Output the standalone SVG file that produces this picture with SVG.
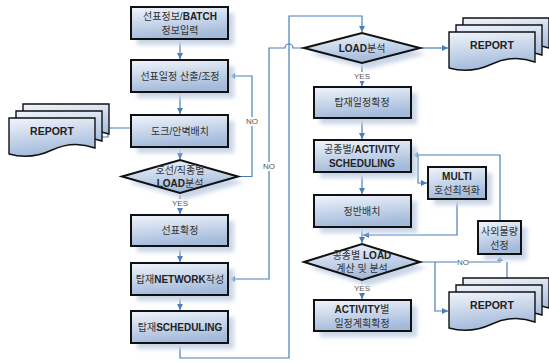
<svg xmlns="http://www.w3.org/2000/svg" width="549" height="363" viewBox="0 0 549 363">
<defs>
<linearGradient id="g" x1="0" y1="0" x2="0.25" y2="1">
<stop offset="0" stop-color="#f1f5fb"/>
<stop offset="1" stop-color="#a3badb"/>
</linearGradient>
<filter id="sh" x="-20%" y="-20%" width="150%" height="160%">
<feGaussianBlur stdDeviation="2"/>
</filter>
<marker id="ar" markerWidth="6" markerHeight="6" refX="6" refY="3" orient="auto" markerUnits="userSpaceOnUse">
<path d="M0,0 L6,3 L0,6 z" fill="#4a7ebb"/>
</marker>
<path id="doc" d="M0,0 H86 V30 Q64.5,22 43,32 T0,36 Z"/>
</defs>
<style>
.box{fill:url(#g);stroke:#111;stroke-width:2}
.shd{fill:#c9d6e8;filter:url(#sh)}
.dc{fill:url(#g);stroke:#111;stroke-width:1.4}
.t{font-family:"Liberation Sans","Noto Sans CJK KR",sans-serif;font-size:10px;fill:#333;text-anchor:middle}
.b{font-weight:bold;fill:#222}
.rp{font-family:"Liberation Sans",sans-serif;font-size:10.5px;font-weight:bold;fill:#222;text-anchor:middle}
.lb{font-family:"Liberation Sans",sans-serif;font-size:8px;fill:#555;text-anchor:middle}
.c{fill:none;stroke:#4a7ebb;stroke-width:1.2}
</style>
<rect width="549" height="363" fill="#fff"/>

<g id="connectors">
<path class="c" d="M180,39 V59" marker-end="url(#ar)"/>
<path class="c" d="M180,92 V114" marker-end="url(#ar)"/>
<path class="c" d="M180,147 V159" marker-end="url(#ar)"/>
<path class="c" d="M180,193 V214" marker-end="url(#ar)"/>
<path class="c" d="M180,246 V262" marker-end="url(#ar)"/>
<path class="c" d="M180,295 V310" marker-end="url(#ar)"/>
<path class="c" d="M238,176.5 H252 V76 H229" marker-end="url(#ar)"/>
<path class="c" d="M131,128 H108 V137 H96" marker-end="url(#ar)"/>
<path class="c" d="M180,343 V358 H289 V16 H362 V32" marker-end="url(#ar)"/>
<path class="c" d="M304,48 H293 A4,4 0 0 0 285,48 H269 V279 H229" marker-end="url(#ar)"/>
<path class="c" d="M420,48 H448" marker-end="url(#ar)"/>
<path class="c" d="M362,63 V86" marker-end="url(#ar)"/>
<path class="c" d="M362,118 V139" marker-end="url(#ar)"/>
<path class="c" d="M362,172 V194" marker-end="url(#ar)"/>
<path class="c" d="M362,227 V243" marker-end="url(#ar)"/>
<path class="c" d="M457,199 V235 H363" marker-end="url(#ar)"/>
<path class="c" d="M362,280 V299" marker-end="url(#ar)"/>
<path class="c" d="M500,221 V155 H412" marker-end="url(#ar)"/>
<path class="c" d="M418,155 V183 H427" marker-end="url(#ar)"/>
<path class="c" d="M420,262 H500 V255" marker-end="url(#ar)"/>
<path class="c" d="M435,262 V311 H448" marker-end="url(#ar)"/>
<path class="c" d="M507,278 V262"/>
<rect x="174" y="199" width="12" height="9" fill="#fff"/>
<text class="lb" x="180" y="206">YES</text>
<rect x="356" y="72" width="12" height="9" fill="#fff"/>
<text class="lb" x="362" y="79">YES</text>
<rect x="356" y="284" width="12" height="9" fill="#fff"/>
<text class="lb" x="362" y="291">YES</text>
<rect x="246" y="117" width="12" height="9" fill="#fff"/>
<text class="lb" x="252" y="124">NO</text>
<rect x="263" y="162" width="12" height="9" fill="#fff"/>
<text class="lb" x="269" y="169">NO</text>
<rect x="457" y="258" width="12" height="9" fill="#fff"/>
<text class="lb" x="463" y="265">NO</text>
</g>

<g id="n1"><rect class="shd" x="137" y="13" width="97" height="32"/><rect class="box" x="131" y="7" width="97" height="32"/>
<text class="t" x="180" y="20">선표정보/<tspan class="b">BATCH</tspan></text><text class="t" x="180" y="34">정보입력</text></g>
<g id="n2"><rect class="shd" x="137" y="66" width="97" height="32"/><rect class="box" x="131" y="60" width="97" height="32"/>
<text class="t" x="180" y="80">선표일정 산출/조정</text></g>
<g id="n3"><rect class="shd" x="137" y="121" width="97" height="32"/><rect class="box" x="131" y="115" width="97" height="32"/>
<text class="t" x="180" y="135">도크/안벽배치</text></g>
<g id="d1"><path class="shd" d="M128,182.5 L186,166 L244,182.5 L186,199 Z"/><path class="box" d="M122,176.5 L180,160 L238,176.5 L180,193 Z"/>
<text class="t" x="180" y="174">호선/직종별</text><text class="t" x="180" y="187"><tspan class="b">LOAD</tspan>분석</text></g>
<g id="n4"><rect class="shd" x="137" y="221" width="97" height="31"/><rect class="box" x="131" y="215" width="97" height="31"/>
<text class="t" x="180" y="234">선표확정</text></g>
<g id="n5"><rect class="shd" x="137" y="269" width="97" height="32"/><rect class="box" x="131" y="263" width="97" height="32"/>
<text class="t" x="180" y="283">탑재<tspan class="b">NETWORK</tspan>작성</text></g>
<g id="n6"><rect class="shd" x="137" y="317" width="97" height="32"/><rect class="box" x="131" y="311" width="97" height="32"/>
<text class="t" x="180" y="331">탑재<tspan class="b">SCHEDULING</tspan></text></g>

<g id="rep1">
<use href="#doc" class="dc" x="23" y="104"/><use href="#doc" class="dc" x="16" y="111"/><use href="#doc" class="dc" x="9" y="118"/>
<text class="rp" x="52" y="135">REPORT</text></g>

<g id="d2"><path class="shd" d="M310,54 L368,39 L426,54 L368,69 Z"/><path class="box" d="M304,48 L362,33 L420,48 L362,63 Z"/>
<text class="t" x="362" y="52"><tspan class="b">LOAD</tspan>분석</text></g>
<g id="rep2">
<use href="#doc" class="dc" x="463" y="18"/><use href="#doc" class="dc" x="456" y="25"/><use href="#doc" class="dc" x="449" y="32"/>
<text class="rp" x="492" y="49">REPORT</text></g>
<g id="r1"><rect class="shd" x="320" y="93" width="97" height="31"/><rect class="box" x="314" y="87" width="97" height="31"/>
<text class="t" x="362" y="106">탑재일정확정</text></g>
<g id="r2"><rect class="shd" x="320" y="146" width="97" height="32"/><rect class="box" x="314" y="140" width="97" height="32"/>
<text class="t" x="362" y="153">공종별/<tspan class="b">ACTIVITY</tspan></text><text class="t b" x="362" y="167">SCHEDULING</text></g>
<g id="r3"><rect class="shd" x="320" y="201" width="97" height="32"/><rect class="box" x="314" y="195" width="97" height="32"/>
<text class="t" x="362" y="215">정반배치</text></g>
<g id="d3"><path class="shd" d="M310,268 L368,250 L426,268 L368,286 Z"/><path class="box" d="M304,262 L362,244 L420,262 L362,280 Z"/>
<text class="t" x="362" y="259">공종별 <tspan class="b">LOAD</tspan></text><text class="t" x="362" y="272">계산 및 분석</text></g>
<g id="r4"><rect class="shd" x="320" y="306" width="97" height="31"/><rect class="box" x="314" y="300" width="97" height="31"/>
<text class="t" x="362" y="313"><tspan class="b">ACTIVITY</tspan>별</text><text class="t" x="362" y="327">일정계획확정</text></g>
<g id="multi"><rect class="shd" x="434" y="173" width="58" height="32"/><rect class="box" x="428" y="167" width="58" height="32"/>
<text class="t b" x="457" y="180">MULTI</text><text class="t" x="457" y="194">호선최적화</text></g>
<g id="outs"><rect class="shd" x="484" y="227" width="43" height="33"/><rect class="box" x="478" y="221" width="43" height="33"/>
<text class="t" x="499.5" y="235">사외물량</text><text class="t" x="499.5" y="249">선정</text></g>
<g id="rep3">
<use href="#doc" class="dc" x="463" y="278"/><use href="#doc" class="dc" x="456" y="285"/><use href="#doc" class="dc" x="449" y="292"/>
<text class="rp" x="492" y="309">REPORT</text></g>
</svg>
